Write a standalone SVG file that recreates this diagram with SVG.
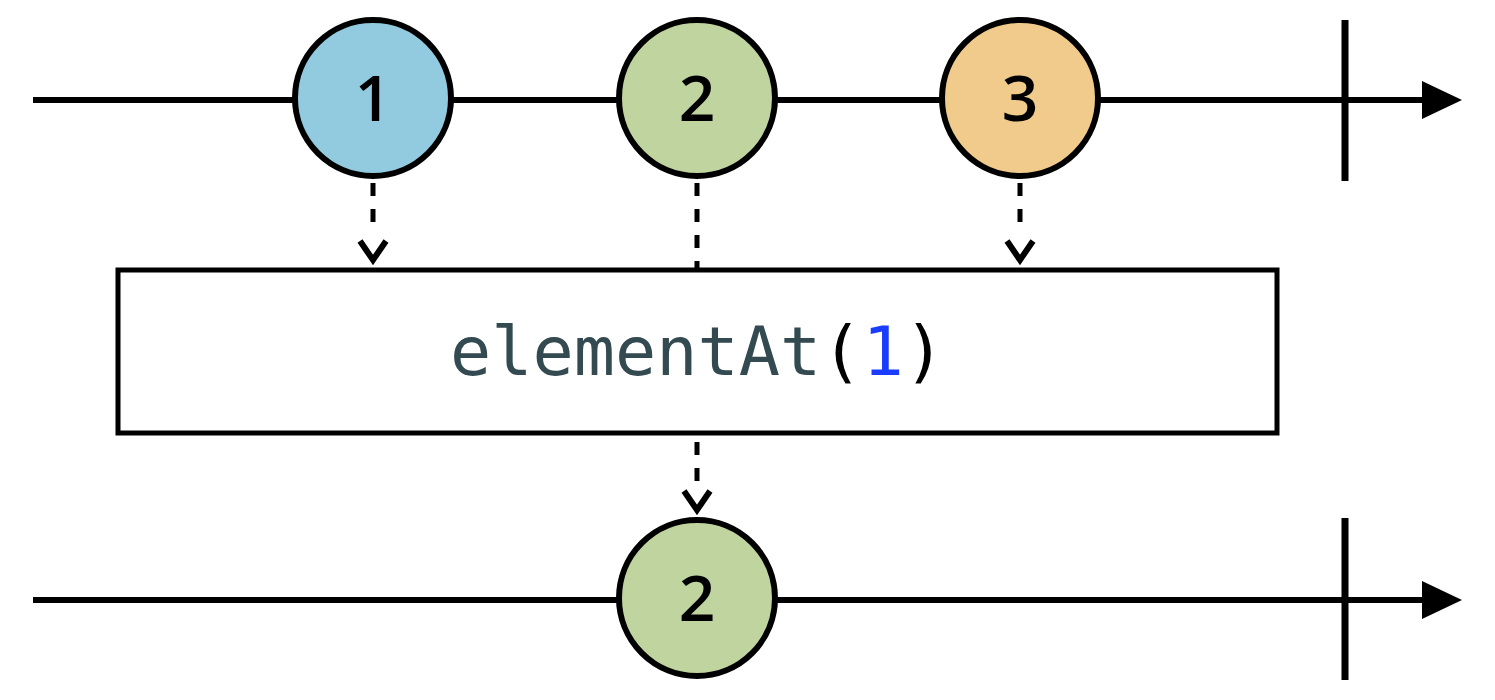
<svg xmlns="http://www.w3.org/2000/svg" width="1495" height="700" viewBox="0 0 1495 700">
<style>
.line{stroke:#000;stroke-width:6;fill:none}
.tick{stroke:#000;stroke-width:7}
.node{stroke:#000;stroke-width:6}
.lbl{font-family:"Open Sans","Liberation Sans",sans-serif;font-size:64px;font-weight:600;fill:#000;text-anchor:middle}
.dash{stroke:#000;stroke-width:5;stroke-dasharray:13 13;fill:none}
.vee{fill:none;stroke:#000;stroke-width:6}
.code{font-family:"DejaVu Sans Mono",monospace;font-size:68.5px}
</style>
<defs>
<marker id="tri" markerWidth="40" markerHeight="40" refX="0" refY="20" markerUnits="userSpaceOnUse" orient="auto">
<path d="M0,1 L40,20 L0,39 Z" fill="#000"/>
</marker>
</defs>
<g id="connectors">
<line class="line" x1="33" y1="100" x2="1422" y2="100" marker-end="url(#tri)"/>
<line class="tick" x1="1345" y1="20" x2="1345" y2="181"/>
<line class="line" x1="33" y1="600" x2="1422" y2="600" marker-end="url(#tri)"/>
<line class="tick" x1="1345" y1="518" x2="1345" y2="680"/>
<line class="dash" x1="373" y1="183" x2="373" y2="222"/>
<path class="vee" d="M360,241 L373,260 L386,241"/>
<line class="dash" x1="697" y1="183" x2="697" y2="268"/>
<line class="dash" x1="1020" y1="183" x2="1020" y2="222"/>
<path class="vee" d="M1007,241 L1020,260 L1033,241"/>
<line class="dash" x1="697" y1="442" x2="697" y2="481"/>
<path class="vee" d="M684,491 L697,510 L710,491"/>
</g>
<g id="n1"><circle class="node" cx="373" cy="98" r="78" fill="#92cbdf"/><text class="lbl" x="373" y="121">1</text></g>
<g id="n2"><circle class="node" cx="697" cy="98" r="78" fill="#c0d4a0"/><text class="lbl" x="697" y="121">2</text></g>
<g id="n3"><circle class="node" cx="1020" cy="98" r="78" fill="#f0cb8b"/><text class="lbl" x="1020" y="121">3</text></g>
<g id="op">
<rect x="118" y="270" width="1159" height="163" fill="#fff" stroke="#000" stroke-width="5"/>
<text class="code" x="450" y="375"><tspan fill="#334a50">elementAt</tspan><tspan fill="#000">(</tspan><tspan fill="#1a3cff">1</tspan><tspan fill="#000">)</tspan></text>
</g>
<g id="out2"><circle class="node" cx="697" cy="598" r="78" fill="#c0d4a0"/><text class="lbl" x="697" y="621">2</text></g>
</svg>
